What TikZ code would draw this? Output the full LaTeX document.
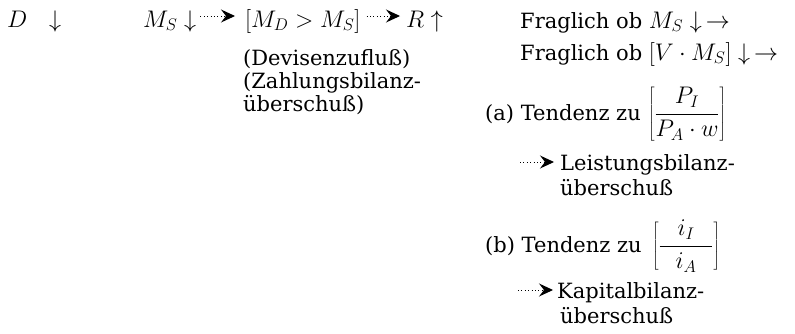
\RequirePackage{fix-cm}
\documentclass[tikz,border=0pt]{standalone}
\usepackage{fontspec}
\setmainfont{DejaVu Serif}
\usetikzlibrary{arrows.meta}
\newcommand\fsz{\fontsize{21}{25}\selectfont}
\newcommand\mth[1]{{\fontsize{24}{28}\selectfont$#1$}}
\tikzset{
  txt/.style={inner sep=0pt, anchor=base west, font=\fsz},
  dotarr/.style={line width=1pt, dash pattern=on 1pt off 2.4pt,
    -{Stealth[length=14pt,width=13pt,inset=5pt]}}
}
\begin{document}
\begin{tikzpicture}[x=1pt,y=1pt]
\useasboundingbox (0,0) rectangle (795,-333);
% left chain
\node[txt] (d)  at (7,-27)   {\mth{D}};
\node[txt] (dd) at (49,-27)  {\mth{\downarrow}};
\node[txt] (ms) at (143,-27) {\mth{M_S\downarrow}};
\node[txt] (md) at (245,-27) {\mth{[M_D>M_S]}};
\node[txt] (r)  at (406,-27) {\mth{R\uparrow}};
\coordinate (row1) at (0,-16);
\draw[dotarr, shorten <=4pt, shorten >=10pt] (ms.east |- row1) -- (md.west |- row1);
\draw[dotarr, shorten <=6pt, shorten >=6pt] (md.east |- row1) -- (r.west |- row1);
\node[txt] (dev)  at (243,-65)  {(Devisenzufluß)};
\node[txt] (zb1)  at (243,-88)  {(Zahlungsbilanz-};
\node[txt] (zb2)  at (243,-111) {überschuß)};
% right column
\node[txt] (f1) at (520,-28) {Fraglich ob \mth{M_S\downarrow\,\rightarrow}};
\node[txt] (f2) at (520,-60) {Fraglich ob \mth{[V\cdot M_S]\downarrow\,\rightarrow}};
\node[txt] (ta) at (485,-120) {(a) Tendenz zu\hspace{7pt}\mth{\displaystyle\left[\frac{P_I}{P_A\cdot w}\right]}};
\coordinate (la) at (520,-162);
\node[txt] (lb1) at (560,-170) {Leistungsbilanz-};
\node[txt] (lb2) at (560,-195) {überschuß};
\draw[dotarr, shorten >=6pt] (la) -- (lb1.west |- la);
\node[txt] (tb) at (485,-252) {(b) Tendenz zu\hspace{10pt}\mth{\displaystyle\left[\frac{\mkern12mu i_I\mkern12mu}{\mkern12mu i_A\mkern12mu}\right]}};
\coordinate (ka) at (518,-290);
\node[txt] (kb1) at (557,-298) {Kapitalbilanz-};
\node[txt] (kb2) at (560,-323) {überschuß};
\draw[dotarr, shorten >=4pt] (ka) -- (kb1.west |- ka);
\end{tikzpicture}
\end{document}
